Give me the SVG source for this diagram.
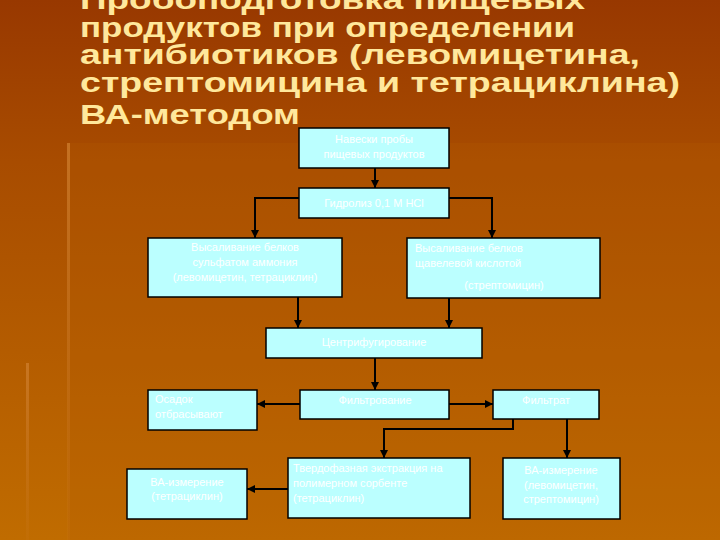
<svg xmlns="http://www.w3.org/2000/svg" width="720" height="540" viewBox="0 0 720 540">
<defs>
<linearGradient id="bg" x1="0" y1="0" x2="0" y2="1">
<stop offset="0" stop-color="#983800"/>
<stop offset="0.3" stop-color="#a84c00"/>
<stop offset="1" stop-color="#c06c00"/>
</linearGradient>
<linearGradient id="vl" x1="0" y1="0" x2="0" y2="1">
<stop offset="0" stop-color="#d08030" stop-opacity="0.7"/>
<stop offset="1" stop-color="#d08030" stop-opacity="0.1"/>
</linearGradient>
<marker id="ah" viewBox="0 0 10 10" refX="10" refY="5" markerWidth="4" markerHeight="4" orient="auto" markerUnits="strokeWidth">
<path d="M0,0 L10,5 L0,10 z" fill="#000"/>
</marker>
<style>
.box{fill:#bbffff;stroke:#000;stroke-width:1.5}
.t{font-family:"Liberation Sans",Arial,sans-serif;font-size:11px;fill:#ffffff}
.c{text-anchor:middle}
.title{font-family:"Liberation Sans",Arial,sans-serif;font-weight:bold;font-size:28px;fill:#ffe89c}
.ln{fill:none;stroke:#000;stroke-width:2}
.ar{marker-end:url(#ah)}
</style>
</defs>
<rect x="0" y="0" width="720" height="540" fill="url(#bg)"/>
<rect x="68" y="143" width="652" height="397" fill="#b45c00" opacity="0.25"/>
<rect x="67" y="143" width="3" height="397" fill="url(#vl)"/>
<rect x="26" y="363" width="3" height="177" fill="url(#vl)"/>

<g id="title">
<text class="title" x="80" y="9" textLength="505" lengthAdjust="spacingAndGlyphs">Пробоподготовка пищевых</text>
<text class="title" x="80" y="37" textLength="495" lengthAdjust="spacingAndGlyphs">продуктов при определении</text>
<text class="title" x="80" y="64" textLength="560" lengthAdjust="spacingAndGlyphs">антибиотиков (левомицетина,</text>
<text class="title" x="80" y="92" textLength="600" lengthAdjust="spacingAndGlyphs">стрептомицина и тетрациклина)</text>
<text class="title" x="80" y="124" textLength="220" lengthAdjust="spacingAndGlyphs">ВА-методом</text>
</g>

<g id="connectors">
<path class="ln ar" d="M375,168 V188"/>
<path class="ln ar" d="M299,198 H255 V238"/>
<path class="ln ar" d="M449,198 H492 V238"/>
<path class="ln ar" d="M298,297 V328"/>
<path class="ln ar" d="M449,298 V328"/>
<path class="ln ar" d="M375,358 V390"/>
<path class="ln ar" d="M300,404 H257"/>
<path class="ln ar" d="M449,404 H493"/>
<path class="ln ar" d="M513,419 V429 H384 V458"/>
<path class="ln ar" d="M567,419 V458"/>
<path class="ln ar" d="M288,489 H247"/>
</g>

<g id="n1">
<rect class="box" x="299" y="128" width="150" height="40"/>
<text class="t c" x="374" y="143">Навески пробы</text>
<text class="t c" x="374" y="158">пищевых продуктов</text>
</g>
<g id="n2">
<rect class="box" x="299" y="188" width="150" height="30"/>
<text class="t c" x="374" y="207">Гидролиз 0,1 М HCl</text>
</g>
<g id="n3">
<rect class="box" x="148" y="238" width="194" height="59"/>
<text class="t c" x="245" y="251">Высаливание белков</text>
<text class="t c" x="245" y="266">сульфатом аммония</text>
<text class="t c" x="245" y="281">(левомицетин, тетрациклин)</text>
</g>
<g id="n4">
<rect class="box" x="407" y="238" width="193" height="60"/>
<text class="t" x="415" y="252">Высаливание белков</text>
<text class="t" x="415" y="267">щавелевой кислотой</text>
<text class="t c" x="504" y="289">(стрептомицин)</text>
</g>
<g id="n5">
<rect class="box" x="266" y="328" width="216" height="30"/>
<text class="t c" x="374" y="346">Центрифугирование</text>
</g>
<g id="n6">
<rect class="box" x="300" y="390" width="149" height="29"/>
<text class="t c" x="375" y="404">Фильтрование</text>
</g>
<g id="n7">
<rect class="box" x="148" y="390" width="109" height="40"/>
<text class="t" x="155" y="403">Осадок</text>
<text class="t" x="155" y="418">отбрасывают</text>
</g>
<g id="n8">
<rect class="box" x="493" y="390" width="106" height="29"/>
<text class="t c" x="546" y="404">Фильтрат</text>
</g>
<g id="n9">
<rect class="box" x="288" y="458" width="182" height="60"/>
<text class="t" x="293" y="472">Твердофазная экстракция на</text>
<text class="t" x="293" y="487">полимерном сорбенте</text>
<text class="t" x="293" y="502">(тетрациклин)</text>
</g>
<g id="n10">
<rect class="box" x="127" y="469" width="120" height="50"/>
<text class="t c" x="187" y="486">ВА-измерение</text>
<text class="t c" x="187" y="500">(тетрациклин)</text>
</g>
<g id="n11">
<rect class="box" x="503" y="458" width="117" height="61"/>
<text class="t c" x="561" y="474">ВА-измерение</text>
<text class="t c" x="561" y="489">(левомицетин,</text>
<text class="t c" x="561" y="503">стрептомицин)</text>
</g>
</svg>
